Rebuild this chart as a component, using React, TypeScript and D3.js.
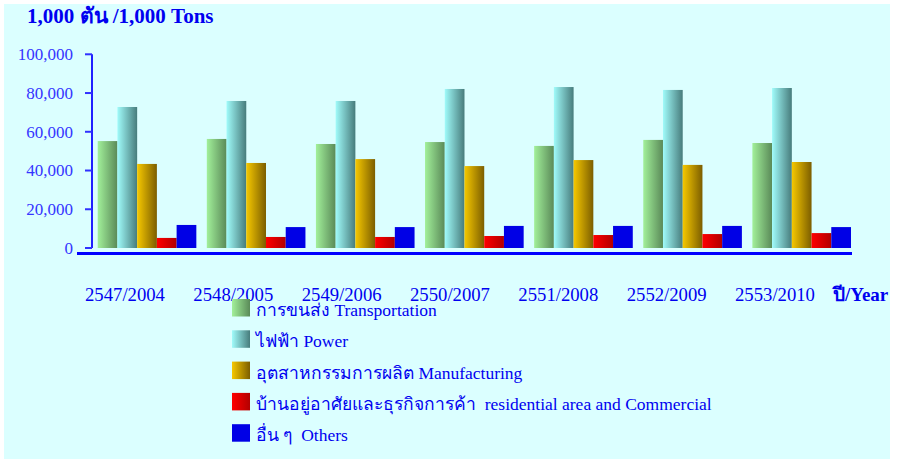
import React from 'react';
import * as d3 from 'd3';

// Years (Thai / Western) shown under each group
const years = ['2547/2004', '2548/2005', '2549/2006', '2550/2007', '2551/2008', '2552/2009', '2553/2010'];

// Consumption by sector, 1,000 tons
const transportation = [55200, 56300, 53700, 54700, 52700, 55800, 54200];
const power = [72800, 75900, 75900, 82100, 83100, 81600, 82600];
const manufacturing = [43400, 43900, 45900, 42300, 45400, 42900, 44400];
const residential = [5200, 5700, 5700, 6200, 6700, 7200, 7700];
const others = [11900, 10800, 10800, 11400, 11400, 11400, 10800];

const seriesNames = [
  'การขนส่ง Transportation',
  'ไฟฟ้า Power',
  'อุตสาหกรรมการผลิต Manufacturing',
  'บ้านอยู่อาศัยและธุรกิจการค้า  residential area and Commercial',
  'อื่น ๆ  Others',
];
const seriesValues = [transportation, power, manufacturing, residential, others];

const yTicks = [0, 20000, 40000, 60000, 80000, 100000];

// left -> right gradient stops per series
const gradients = [
  ['#a2f09a', '#5a8a58'],
  ['#a0fbfa', '#477c7c'],
  ['#f6c800', '#7c5e00'],
  ['#ff0000', '#b20000'],
  ['#0000e6', '#0000e6'],
];

const W = 903;
const H = 460;
const serif = '"Liberation Serif", "Times New Roman", serif';
const blue = '#0000f0';

export default function App() {
  const y = d3.scaleLinear().domain([0, 100000]).range([248, 54.3]);

  const x0 = d3.scaleBand<string>().domain(years).range([97.7, 851]).paddingInner(0.096).paddingOuter(0);
  const x1 = d3.scaleBand<number>().domain(d3.range(seriesNames.length)).range([0, x0.bandwidth()]).padding(0);

  // category labels sit a bit left of the bar groups
  const xLabel = d3.scalePoint<string>().domain(years).range([125, 775]);

  const legendY = d3.scaleBand<number>().domain(d3.range(seriesNames.length)).range([299, 455.5]);

  const fmt = d3.format(',');

  return (
    <svg width={W} height={H} style={{ position: 'absolute', left: 0, top: 0, display: 'block' }}>
      <defs>
        {gradients.map((g, i) => (
          <linearGradient key={i} id={`grad${i}`} x1="0" x2="1" y1="0" y2="0">
            <stop offset="0%" stopColor={g[0]} />
            <stop offset="100%" stopColor={g[1]} />
          </linearGradient>
        ))}
      </defs>
      <rect x={0} y={0} width={W} height={H} fill="#ffffff" />
      <rect x={4} y={4} width={886} height={455} fill="#dbffff" />

      <text x={27} y={23} fontFamily={serif} fontWeight="bold" fontSize={21} fill={blue}>
        1,000 ตัน /1,000 Tons
      </text>

      {/* y axis */}
      <line x1={92} x2={92} y1={y(100000)} y2={y(0)} stroke="#2020ff" strokeWidth={2} />
      {yTicks.map(t => (
        <g key={t}>
          <line x1={85} x2={92} y1={y(t)} y2={y(t)} stroke="#3030ff" strokeWidth={2} />
          <text x={73} y={y(t)} dy="0.35em" textAnchor="end" fontFamily={serif} fontSize={17} fill="#3535ff">
            {fmt(t)}
          </text>
        </g>
      ))}

      {/* bars */}
      {years.map((yr, gi) => (
        <g key={yr} transform={`translate(${x0(yr)},0)`}>
          {seriesValues.map((vals, si) => (
            <rect
              key={si}
              x={x1(si)}
              y={y(vals[gi])}
              width={x1.bandwidth()}
              height={y(0) - y(vals[gi])}
              fill={`url(#grad${si})`}
            />
          ))}
        </g>
      ))}

      {/* x baseline */}
      <line x1={77} x2={852} y1={253.5} y2={253.5} stroke="#0000ff" strokeWidth={3} />

      {years.map(yr => (
        <text key={yr} x={xLabel(yr)} y={301} textAnchor="middle" fontFamily={serif} fontSize={18.7} fill={blue}>
          {yr}
        </text>
      ))}
      <text x={833} y={301} fontFamily={serif} fontWeight="bold" fontSize={19} fill={blue}>
        ปี/Year
      </text>

      {/* legend */}
      {seriesNames.map((name, i) => {
        const top = legendY(i) as number;
        return (
          <g key={name}>
            <rect x={232} y={top} width={18} height={17.5} fill={`url(#grad${i})`} />
            <text x={256} y={top + 17} fontFamily={serif} fontSize={17.5} fill={blue} style={{ whiteSpace: 'pre' }}>
              {name}
            </text>
          </g>
        );
      })}
    </svg>
  );
}
